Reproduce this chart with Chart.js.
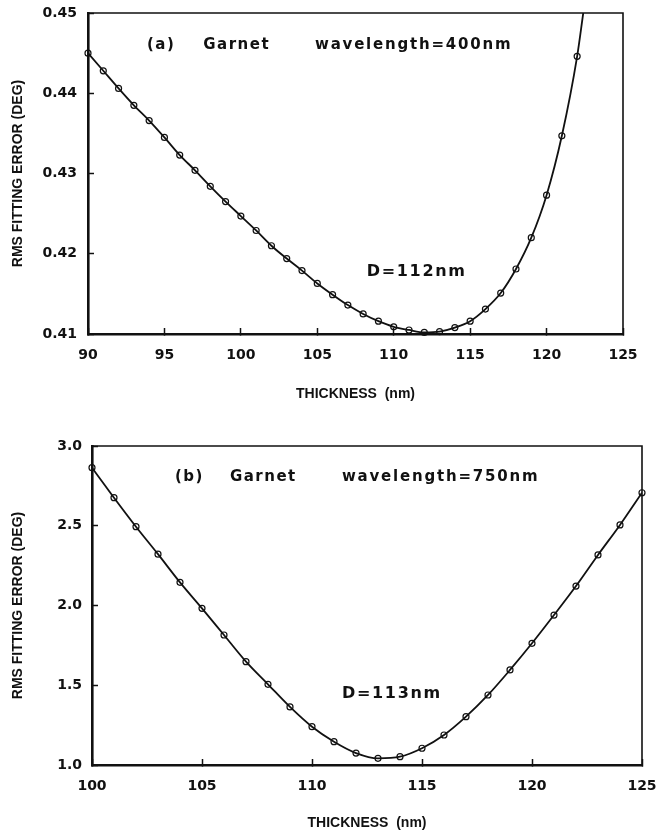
<!DOCTYPE html>
<html>
<head>
<meta charset="utf-8">
<script src="https://cdn.jsdelivr.net/npm/chart.js"></script>
<style>
  body { margin: 0; background: #fff; }
  .panel { position: absolute; left: 0; width: 657px; }
</style>
</head>
<body>
<div class="panel" style="top:0;height:416px"><canvas id="chart-a" width="657" height="416"></canvas></div>
<div class="panel" style="top:416px;height:417px"><canvas id="chart-b" width="657" height="417"></canvas></div>
<script>
  // (a) wavelength 400nm
  const thicknessA = [90, 91, 92, 93, 94, 95, 96, 97, 98, 99, 100, 101, 102, 103, 104, 105, 106,
    107, 108, 109, 110, 111, 112, 113, 114, 115, 116, 117, 118, 119, 120, 121, 122];
  const errorA = [0.4450, 0.4428, 0.4406, 0.4385, 0.4366, 0.4345, 0.4323, 0.4304, 0.4284, 0.4265,
    0.4247, 0.4229, 0.4210, 0.4194, 0.4179, 0.4163, 0.4149, 0.4136, 0.4125, 0.4116, 0.4109,
    0.4105, 0.4102, 0.4103, 0.4108, 0.4116, 0.4131, 0.4151, 0.4181, 0.4220, 0.4273, 0.4347, 0.4446];
  // fitted curve leaves the top of the frame here
  const curveEndA = [122.4, 0.450];
  const xTicksA = [90, 95, 100, 105, 110, 115, 120, 125];
  const yTicksA = [0.41, 0.42, 0.43, 0.44, 0.45];

  // (b) wavelength 750nm
  const thicknessB = [100, 101, 102, 103, 104, 105, 106, 107, 108, 109, 110, 111, 112, 113,
    114, 115, 116, 117, 118, 119, 120, 121, 122, 123, 124, 125];
  const errorB = [2.864, 2.676, 2.494, 2.322, 2.145, 1.982, 1.815, 1.648, 1.506, 1.364, 1.240,
    1.146, 1.075, 1.042, 1.052, 1.105, 1.188, 1.303, 1.439, 1.596, 1.763, 1.940, 2.122,
    2.317, 2.505, 2.707];
  const xTicksB = [100, 105, 110, 115, 120, 125];
  const yTicksB = [1.0, 1.5, 2.0, 2.5, 3.0];

  const INK = '#111';
  const TEXT_FONT = '"Liberation Sans", Arial, Helvetica, sans-serif';
  const TICK_FONT = '"DejaVu Sans", sans-serif';

  // top/right frame lines and the in-plot captions
  const framePlugin = {
    id: 'frame',
    afterDraw(chart, args, opts) {
      const { ctx, chartArea: a } = chart;
      const xs = chart.scales.x, ys = chart.scales.y;
      ctx.save();
      ctx.strokeStyle = INK;
      ctx.lineWidth = 1.6;
      ctx.beginPath();
      ctx.moveTo(a.left, a.top);
      ctx.lineTo(a.right, a.top);
      ctx.lineTo(a.right, a.bottom);
      ctx.stroke();

      ctx.fillStyle = INK;
      ctx.textAlign = 'left';
      ctx.textBaseline = 'middle';
      for (const n of opts.notes) {
        ctx.font = 'bold ' + n.size + 'px ' + TICK_FONT;
        ctx.letterSpacing = n.spacing + 'px';
        ctx.fillText(n.text, xs.getPixelForValue(n.x), ys.getPixelForValue(n.y));
      }
      ctx.restore();
    }
  };

  function toPoints(xs, ys) {
    return xs.map((x, i) => ({ x: x, y: ys[i] }));
  }

  function makeChart(id, p) {
    return new Chart(document.getElementById(id), {
      type: 'line',
      data: {
        datasets: [
          {
            data: p.curve,
            borderColor: INK,
            borderWidth: 1.8,
            pointRadius: 0,
            cubicInterpolationMode: 'monotone',
            fill: false
          },
          {
            data: p.points,
            showLine: false,
            pointStyle: 'circle',
            pointRadius: 3,
            pointBorderWidth: 1.2,
            pointBorderColor: INK,
            pointBackgroundColor: 'rgba(255,255,255,0)',
            clip: false
          }
        ]
      },
      options: {
        responsive: false,
        animation: false,
        devicePixelRatio: 1,
        layout: { padding: p.padding },
        plugins: {
          legend: { display: false },
          tooltip: { enabled: false },
          frame: { notes: p.notes }
        },
        scales: {
          x: {
            type: 'linear',
            min: p.xTicks[0],
            max: p.xTicks[p.xTicks.length - 1],
            afterBuildTicks: s => { s.ticks = p.xTicks.map(v => ({ value: v })); },
            afterFit: s => { s.height = p.xHeight; s.paddingLeft = 0; s.paddingRight = 0; },
            border: { display: true, color: INK, width: 2.6 },
            grid: { drawOnChartArea: false, drawTicks: true, tickLength: -6, tickWidth: 1.5, color: INK },
            ticks: {
              color: INK,
              padding: 18.6,
              maxRotation: 0,
              autoSkip: false,
              font: { family: TICK_FONT, weight: 'bold', size: 14 },
              callback: v => String(v)
            },
            title: {
              display: true,
              text: 'THICKNESS  (nm)',
              color: INK,
              font: { family: TEXT_FONT, weight: 'bold', size: 14 },
              padding: { top: 0, bottom: p.xTitlePad }
            }
          },
          y: {
            type: 'linear',
            min: p.yTicks[0],
            max: p.yTicks[p.yTicks.length - 1],
            afterBuildTicks: s => { s.ticks = p.yTicks.map(v => ({ value: v })); },
            afterFit: s => { s.width = p.yWidth; s.paddingTop = 0; s.paddingBottom = 0; },
            border: { display: true, color: INK, width: 2.6 },
            grid: { drawOnChartArea: false, drawTicks: true, tickLength: -6, tickWidth: 1.5, color: INK },
            ticks: {
              color: INK,
              padding: p.yTickPad,
              autoSkip: false,
              font: { family: TICK_FONT, weight: 'bold', size: 14 },
              callback: v => Number(v).toFixed(p.yDigits)
            },
            title: {
              display: true,
              text: 'RMS FITTING ERROR (DEG)',
              color: INK,
              font: { family: TEXT_FONT, weight: 'bold', size: 14 },
              padding: { top: 9.6, bottom: 0 }
            }
          }
        }
      },
      plugins: [framePlugin]
    });
  }

  makeChart('chart-a', {
    points: toPoints(thicknessA, errorA),
    curve: toPoints(thicknessA, errorA).concat([{ x: curveEndA[0], y: curveEndA[1] }]),
    xTicks: xTicksA,
    yTicks: yTicksA,
    yDigits: 2,
    padding: { top: 13, right: 34, bottom: 0, left: 0 },
    xHeight: 82,
    yWidth: 88,
    yTickPad: 17,
    xTitlePad: 13,
    notes: [
      { text: '(a)', x: 93.86, y: 0.4460, size: 15, spacing: 1.5 },
      { text: 'Garnet', x: 97.54, y: 0.4460, size: 15, spacing: 1.5 },
      { text: 'wavelength=400nm', x: 104.85, y: 0.4460, size: 15, spacing: 1.8 },
      { text: 'D=112nm', x: 108.23, y: 0.4178, size: 16, spacing: 1.7 }
    ]
  });

  makeChart('chart-b', {
    points: toPoints(thicknessB, errorB),
    curve: toPoints(thicknessB, errorB),
    xTicks: xTicksB,
    yTicks: yTicksB,
    yDigits: 1,
    padding: { top: 30, right: 15, bottom: 0, left: 0 },
    xHeight: 68,
    yWidth: 92,
    yTickPad: 16,
    xTitlePad: 1,
    notes: [
      { text: '(b)', x: 103.77, y: 2.808, size: 15, spacing: 1.5 },
      { text: 'Garnet', x: 106.27, y: 2.808, size: 15, spacing: 1.5 },
      { text: 'wavelength=750nm', x: 111.36, y: 2.808, size: 15, spacing: 1.8 },
      { text: 'D=113nm', x: 111.36, y: 1.449, size: 16, spacing: 1.7 }
    ]
  });
</script>
</body>
</html>
